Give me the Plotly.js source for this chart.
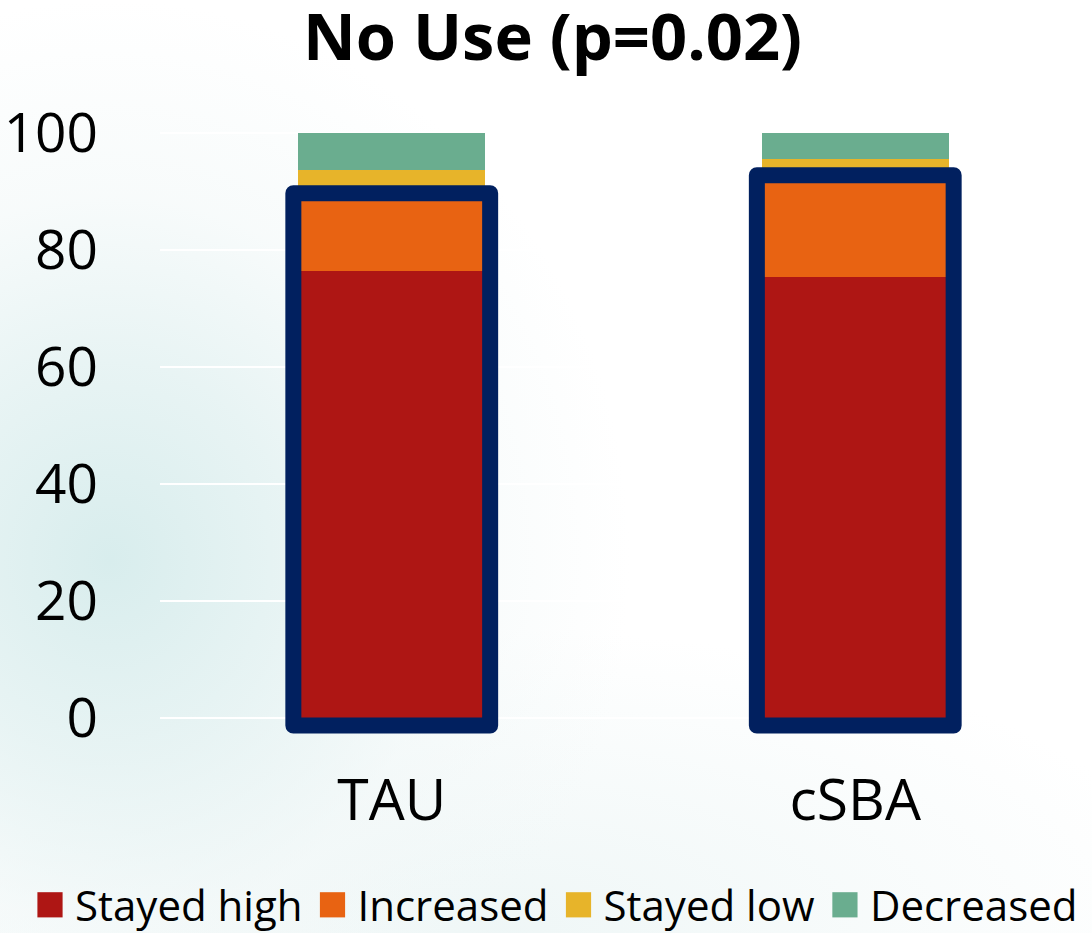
<!DOCTYPE html>
<html>
<head>
<meta charset="utf-8">
<script src="https://cdn.plot.ly/plotly-3.0.1.min.js"></script>
<style>
  html, body { margin: 0; padding: 0; background: #ffffff; }
  #chart {
    width: 1092px; height: 933px;
    background:
      radial-gradient(ellipse 520px 560px at 110px 560px, rgba(214,236,236,0.95) 0%, rgba(226,241,241,0.8) 35%, rgba(240,247,247,0.5) 65%, rgba(255,255,255,0) 100%),
      radial-gradient(ellipse 700px 300px at 500px 930px, rgba(232,243,243,0.7) 0%, rgba(255,255,255,0) 100%),
      #ffffff;
  }
</style>
</head>
<body>
<div id="chart"></div>
<script>
// Groups on the x axis
const groups = ["TAU", "cSBA"];

// Share of participants (%) in each trajectory, per group
const stayedHigh = [76.3, 75.4];
const increased  = [12.0, 16.0];
const stayedLow  = [5.4, 4.2];
const decreased  = [6.3, 4.4];

const seriesNames  = ["Stayed high", "Increased", "Stayed low", "Decreased"];
const seriesValues = [stayedHigh, increased, stayedLow, decreased];
const seriesColors = ["#ae1614", "#e86312", "#e7b42a", "#6aad8f"];

const yTicks = [0, 20, 40, 60, 80, 100];

// Plot geometry
const W = 1092, H = 933;
const margin = { l: 160, r: 5, t: 127, b: 192, pad: 0, autoexpand: false };
const yRange = [-4, 101];
const xRange = [-0.5, 1.5];
const barGap = 0.597;
const outlineWidth = 16;

const plotW = W - margin.l - margin.r;
const plotH = H - margin.t - margin.b;
const pxPerY = plotH / (yRange[1] - yRange[0]);
const pxPerX = plotW / (xRange[1] - xRange[0]);

const traces = seriesNames.map((name, k) => ({
  type: "bar",
  name: name,
  x: groups,
  y: seriesValues[k],
  marker: { color: seriesColors[k], line: { width: 0 } },
  hoverinfo: "skip"
}));

// Navy frame around the "Stayed high" + "Increased" stack of each group
const half = (1 - barGap) / 2 + (outlineWidth / 2 - 3) / pxPerX;
const padY = (outlineWidth / 2) / pxPerY;
const shapes = groups.map((g, i) => {
  const top = stayedHigh[i] + increased[i];
  return {
    type: "rect", xref: "x", yref: "y", layer: "above",
    x0: i - half, x1: i + half,
    y0: 0 - padY, y1: top + padY,
    line: { color: "#01205f", width: outlineWidth },
    fillcolor: "rgba(0,0,0,0)"
  };
});

// Legend row sits under the plot, starting near the left edge of the page
const legendLeftPx = 25, legendMidPx = 905;

const layout = {
  width: W, height: H,
  margin: margin,
  paper_bgcolor: "rgba(0,0,0,0)",
  plot_bgcolor: "rgba(0,0,0,0)",
  barmode: "stack",
  bargap: barGap,
  font: { family: "Open Sans, sans-serif", color: "#000000" },
  title: {
    text: "<b>No Use (p=0.02)</b>",
    font: { family: "Open Sans, sans-serif", size: 65, color: "#000000" },
    x: 0.506, xanchor: "center", xref: "container",
    y: 1 - 37 / H, yanchor: "middle", yref: "container"
  },
  xaxis: {
    type: "category",
    range: xRange,
    showgrid: false, zeroline: false, showline: false,
    ticks: "",
    tickfont: { size: 57, color: "#000000" },
    ticklabelstandoff: 21
  },
  yaxis: {
    range: yRange,
    tickvals: yTicks,
    ticktext: yTicks.map(String),
    showgrid: true, gridcolor: "#ffffff", gridwidth: 2,
    zeroline: true, zerolinecolor: "#ffffff", zerolinewidth: 2,
    showline: false, ticks: "",
    tickfont: { size: 55, color: "#000000" },
    ticklabelstandoff: 61
  },
  showlegend: true,
  legend: {
    orientation: "h",
    traceorder: "normal",
    xref: "paper", yref: "paper",
    x: (legendLeftPx - margin.l) / plotW, xanchor: "left",
    y: (H - margin.b - legendMidPx) / plotH, yanchor: "middle",
    itemwidth: 40,
    font: { size: 42, color: "#000000" },
    bgcolor: "rgba(0,0,0,0)",
    itemclick: false, itemdoubleclick: false
  },
  shapes: shapes
};

Plotly.newPlot("chart", traces, layout, { displayModeBar: false, staticPlot: true }).then(gd => {
  // larger square legend keys and softened frame corners
  gd.querySelectorAll(".legend .legendpoints path").forEach(p => {
    const t = p.getAttribute("transform") || "";
    p.setAttribute("transform", (t + " scale(2.1)").trim());
  });
  gd.querySelectorAll(".shapelayer path").forEach(p => {
    p.style.strokeLinejoin = "round";
  });
});
</script>
</body>
</html>
